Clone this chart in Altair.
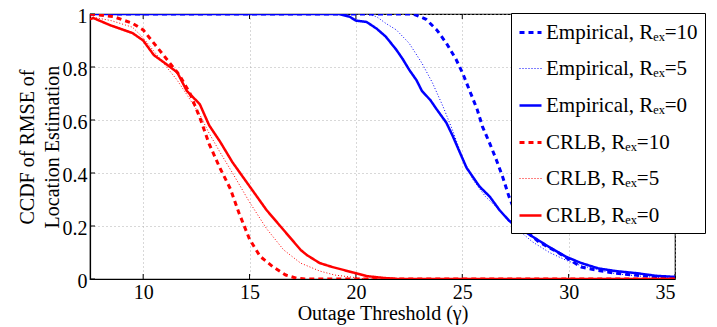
import altair as alt
import pandas as pd

# ---- data ----
series_names = [
    "Empirical, Rₑₓ=10",
    "Empirical, Rₑₓ=5",
    "Empirical, Rₑₓ=0",
    "CRLB, Rₑₓ=10",
    "CRLB, Rₑₓ=5",
    "CRLB, Rₑₓ=0",
]

emp10_x = [7.5, 20.0, 22.7, 23.3, 23.8, 24.25, 24.7, 25.0, 25.35, 25.7, 25.95, 26.3, 26.6, 26.9, 27.2, 27.6, 28.0, 28.6, 29.5, 30.6, 31.4, 32.2, 33.2, 34.1, 35.0]
emp10_y = [1.0, 1.0, 1.0, 0.98, 0.94, 0.89, 0.83, 0.78, 0.71, 0.64, 0.575, 0.51, 0.45, 0.385, 0.31, 0.23, 0.18, 0.14, 0.10, 0.045, 0.032, 0.022, 0.014, 0.009, 0.005]

emp5_x = [7.5, 20.5, 20.97, 21.4, 21.9, 22.5, 23.1, 23.6, 24.1, 24.55, 25.0, 25.5, 26.1, 26.75, 27.2, 28.3, 29.1, 29.9, 30.6, 31.4, 32.2, 33.2, 34.1, 35.0]
emp5_y = [1.0, 1.0, 0.99, 0.965, 0.94, 0.89, 0.815, 0.74, 0.65, 0.56, 0.46, 0.375, 0.31, 0.26, 0.215, 0.14, 0.10, 0.07, 0.05, 0.035, 0.02, 0.012, 0.006, 0.003]

emp0_x = [7.5, 19.2, 19.7, 20.0, 20.5, 20.97, 21.4, 21.9, 22.2, 22.5, 22.85, 23.1, 23.5, 23.8, 24.25, 24.55, 24.9, 25.2, 25.5, 25.8, 26.3, 26.75, 27.2, 28.3, 29.1, 29.9, 30.6, 31.4, 32.2, 33.2, 34.1, 35.0]
emp0_y = [1.0, 1.0, 0.99, 0.975, 0.97, 0.945, 0.915, 0.865, 0.83, 0.79, 0.75, 0.71, 0.675, 0.64, 0.59, 0.54, 0.475, 0.42, 0.385, 0.35, 0.31, 0.26, 0.22, 0.16, 0.12, 0.083, 0.06, 0.04, 0.03, 0.022, 0.012, 0.008]

crlb10_x = [7.5, 8.6, 9.5, 10.0, 10.5, 11.1, 11.7, 12.2, 12.66, 13.1, 13.6, 14.1, 14.5, 15.0, 15.5, 16.1, 16.7, 17.2, 17.6, 35.0]
crlb10_y = [1.0, 0.99, 0.965, 0.94, 0.89, 0.83, 0.77, 0.70, 0.61, 0.51, 0.42, 0.34, 0.25, 0.15, 0.085, 0.046, 0.015, 0.003, 0.0, 0.0]

crlb5_x = [7.5, 8.5, 9.5, 10.0, 10.5, 11.1, 11.6, 12.1, 12.66, 13.1, 13.6, 14.2, 15.0, 15.8, 16.6, 17.4, 18.3, 19.0, 20.0, 20.5, 35.0]
crlb5_y = [0.99, 0.975, 0.95, 0.91, 0.86, 0.80, 0.75, 0.69, 0.62, 0.55, 0.48, 0.40, 0.29, 0.19, 0.11, 0.06, 0.03, 0.015, 0.005, 0.0, 0.0]

crlb0_x = [7.5, 7.65, 8.44, 9.5, 10.0, 10.5, 11.1, 11.6, 12.05, 12.66, 13.1, 13.6, 14.2, 15.0, 15.8, 16.6, 17.4, 17.7, 18.3, 18.9, 19.9, 20.5, 21.3, 22.0, 35.0]
crlb0_y = [0.98, 0.985, 0.958, 0.928, 0.90, 0.845, 0.81, 0.78, 0.71, 0.66, 0.58, 0.52, 0.44, 0.35, 0.26, 0.185, 0.11, 0.09, 0.06, 0.045, 0.024, 0.011, 0.004, 0.0, 0.0]

x_ticks = [10, 15, 20, 25, 30, 35]
y_ticks = [0, 0.2, 0.4, 0.6, 0.8, 1]

colors = ["#0000ff", "#0000ff", "#0000ff", "#ff0000", "#ff0000", "#ff0000"]
dashes = [[5, 4], [1, 2], [1, 0], [5, 4], [1, 2], [1, 0]]
widths = [3, 1, 2.5, 3, 1, 2.5]

rows = []
all_series = [
    (emp10_x, emp10_y), (emp5_x, emp5_y), (emp0_x, emp0_y),
    (crlb10_x, crlb10_y), (crlb5_x, crlb5_y), (crlb0_x, crlb0_y),
]
for name, (xs, ys) in zip(series_names, all_series):
    for i, (xv, yv) in enumerate(zip(xs, ys)):
        rows.append({"series": name, "x": xv, "y": yv, "order": i})
df = pd.DataFrame(rows)
xt_df = pd.DataFrame({"x": x_ticks})
yt_df = pd.DataFrame({"y": y_ticks})

FONT = "Liberation Serif, Times New Roman, Times, serif"
W, H = 585, 265
X_TITLE = "Outage Threshold (γ)"
Y_TITLE = ["CCDF of RMSE of", "Location Estimation"]

xscale = alt.Scale(domain=[7.5, 35], nice=False, zero=False)
yscale = alt.Scale(domain=[0, 1], nice=False)
xaxis = alt.Axis(values=x_ticks, title=X_TITLE)
yaxis = alt.Axis(values=y_ticks, format="~g", title=Y_TITLE)

legend = alt.Legend(
    title=None,
    orient="none",
    legendX=421,
    legendY=-1,
    fillColor="white",
    strokeColor="black",
    padding=7,
    symbolType="stroke",
    symbolSize=484,
    labelFont=FONT,
    labelFontSize=21,
    labelColor="black",
    labelLimit=0,
    labelOffset=3,
    rowPadding=14,
    cornerRadius=0,
)

lines = (
    alt.Chart(df)
    .mark_line(clip=True)
    .encode(
        x=alt.X("x:Q", scale=xscale, axis=xaxis),
        y=alt.Y("y:Q", scale=yscale, axis=yaxis),
        color=alt.Color("series:N", scale=alt.Scale(domain=series_names, range=colors), legend=legend, sort=series_names),
        strokeDash=alt.StrokeDash("series:N", scale=alt.Scale(domain=series_names, range=dashes), legend=legend, sort=series_names),
        strokeWidth=alt.StrokeWidth("series:O", scale=alt.Scale(type="ordinal", domain=series_names, range=widths), legend=legend, sort=series_names),
        order="order:Q",
        detail="series:N",
    )
)

# inward tick marks (MATLAB style) on all four sides
bottom_ticks = alt.Chart(xt_df).mark_rule(color="black", strokeWidth=1).encode(
    x=alt.X("x:Q", scale=xscale, axis=xaxis), y=alt.value(H), y2=alt.value(H - 5))
top_ticks = alt.Chart(xt_df).mark_rule(color="black", strokeWidth=1).encode(
    x=alt.X("x:Q", scale=xscale, axis=xaxis), y=alt.value(0), y2=alt.value(5))
left_ticks = alt.Chart(yt_df).mark_rule(color="black", strokeWidth=1).encode(
    y=alt.Y("y:Q", scale=yscale, axis=yaxis), x=alt.value(0), x2=alt.value(5))
right_ticks = alt.Chart(yt_df).mark_rule(color="black", strokeWidth=1).encode(
    y=alt.Y("y:Q", scale=yscale, axis=yaxis), x=alt.value(W), x2=alt.value(W - 5))

chart = (
    alt.layer(bottom_ticks, top_ticks, left_ticks, right_ticks, lines)
    .properties(
        width=W,
        height=H,
        autosize=alt.AutoSizeParams(type="none"),
        padding={"left": 82, "top": 6, "right": 34, "bottom": 46},
    )
    .configure_view(stroke="black", strokeWidth=1.2)
    .configure_axis(
        labelFont=FONT,
        labelFontSize=20,
        labelColor="black",
        titleFont=FONT,
        titleFontSize=20,
        titleFontWeight="normal",
        titleColor="black",
        grid=True,
        gridColor="#b0b0b0",
        gridDash=[1, 3],
        gridWidth=1,
        domain=True,
        domainColor="black",
        domainWidth=1.2,
        ticks=False,
    )
    .configure_axisY(titlePadding=0, titleLineHeight=25, labelPadding=3, labelOffset=2)
    .configure_axisX(titlePadding=1, labelPadding=3)
)

chart.save("out.html", embed_options={"renderer": "svg", "actions": False})
